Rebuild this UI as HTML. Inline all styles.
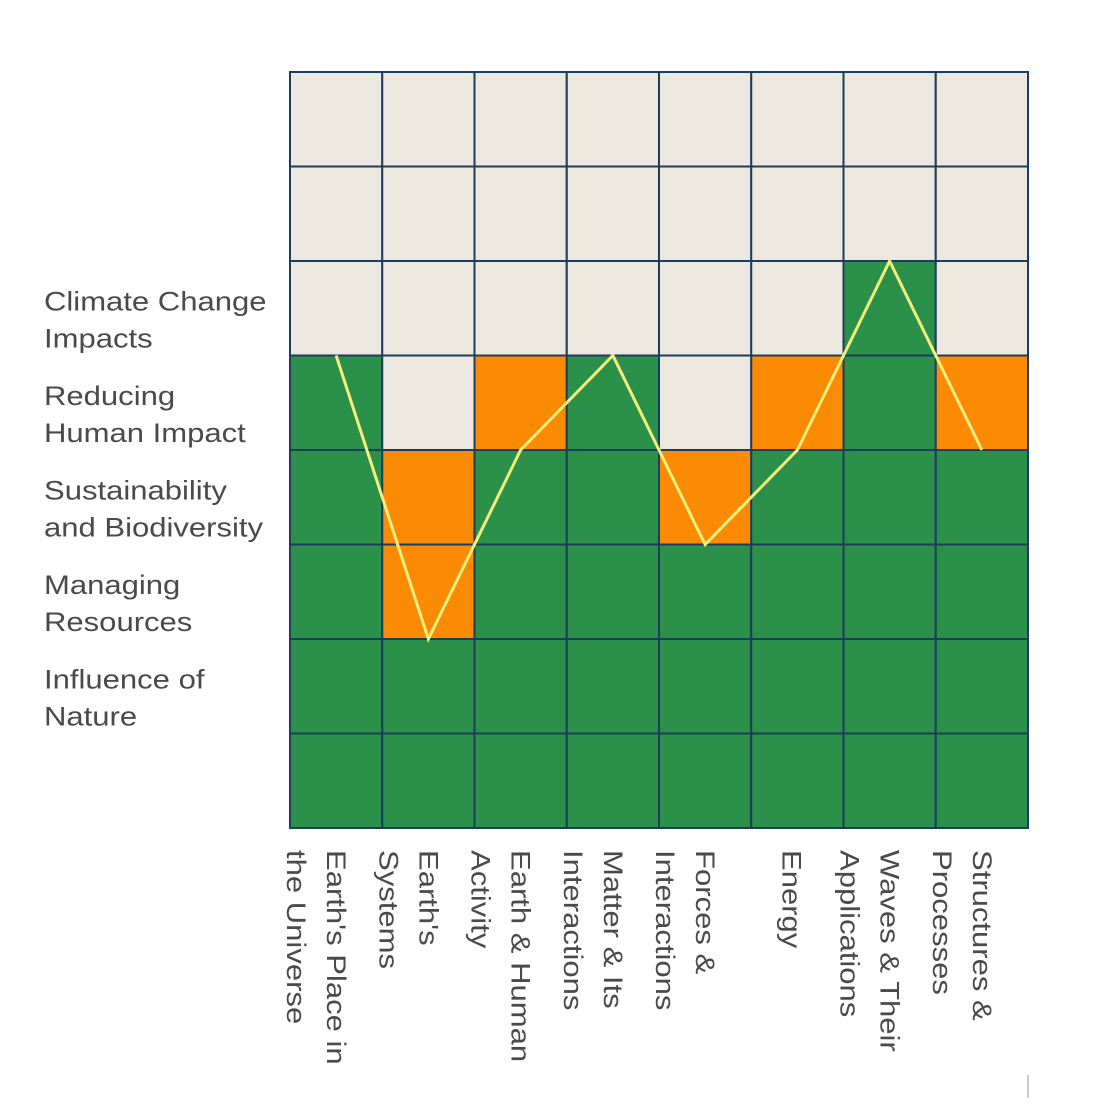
<!DOCTYPE html>
<html><head><meta charset="utf-8"><style>
body{margin:0;background:#fff;}
svg{display:block;font-family:"Liberation Sans",Arial,sans-serif;}
</style></head><body>
<svg id="chart" width="1094" height="1105" viewBox="0 0 1094 1105" xmlns="http://www.w3.org/2000/svg">
<g id="cells"></g><g id="rowlabels"></g><g id="collabels"></g><g id="lineg"></g>
<line x1="1028" y1="1075" x2="1028" y2="1098" stroke="#ccc" stroke-width="2"/>
</svg>
<script>
const columns=[["Earth's Place in","the Universe"],["Earth's","Systems"],["Earth & Human","Activity"],["Matter & Its","Interactions"],["Forces &","Interactions"],["Energy"],["Waves & Their","Applications"],["Structures &","Processes"]];
const rowLabels=[["Climate Change","Impacts"],["Reducing","Human Impact"],["Sustainability","and Biodiversity"],["Managing","Resources"],["Influence of","Nature"]];
const greenLevels=[5,2,4,5,3,4,6,4];
const orangeLevels=[5,4,5,5,4,5,6,5];
const NS="http://www.w3.org/2000/svg";
const X0=290,X1=1028,Y0=72,Y1=828,NR=8;
const cw=(X1-X0)/columns.length, rh=(Y1-Y0)/NR;
const xAt=i=>X0+i*cw, yLevel=l=>Y1-l*rh;
function mk(t,a,p){const e=document.createElementNS(NS,t);for(const k in a)e.setAttribute(k,a[k]);p.appendChild(e);return e;}
const cells=document.getElementById('cells');
for(let c=0;c<columns.length;c++){
 for(let r=0;r<NR;r++){
  const lvl=r+1;
  let fill='#ece8e0';
  if(lvl<=greenLevels[c])fill='#2a904a';else if(lvl<=orangeLevels[c])fill='#fb8a05';
  const e=mk('rect',{x:xAt(c),y:yLevel(lvl),width:cw,height:rh,fill:fill,stroke:'#1d3d5c','stroke-width':2},cells);
  
  
 }
}
const rl=document.getElementById('rowlabels');
rowLabels.forEach((lines,i)=>{
 const yb=yLevel(5-i)-45;
 lines.forEach((s,j)=>{
  const t=mk('text',{x:0,y:0,'font-size':27,fill:'#4a4a4a',transform:`translate(44,${yb+j*37}) scale(1.15,1)`},rl);t.textContent=s;
  
  
 });
});
const cl=document.getElementById('collabels');
columns.forEach((lines,c)=>{
 const cx=xAt(c)+cw/2;
 lines.forEach((s,j)=>{
  const v=(lines.length===1?15:9)+j*40;
  const t=mk('text',{x:0,y:0,'font-size':27,fill:'#4a4a4a',transform:`translate(${cx-v},850) rotate(90) scale(1.15,1)`},cl);t.textContent=s;
  
  
 });
});
const pts=greenLevels.map((l,c)=>`${xAt(c)+cw/2},${yLevel(l)}`).join(' ');
const pl=mk('polyline',{points:pts,fill:'none',stroke:'#f3ef7a','stroke-width':3},document.getElementById('lineg'));


</script>
</body></html>
